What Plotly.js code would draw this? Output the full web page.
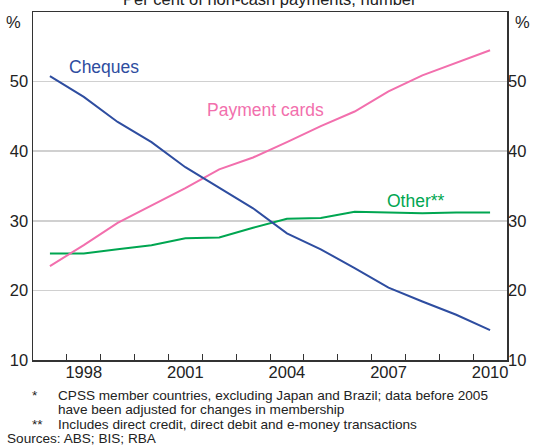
<!DOCTYPE html>
<html>
<head>
<meta charset="utf-8">
<script src="https://cdn.plot.ly/plotly-3.0.1.min.js"></script>
<style>html,body{margin:0;padding:0;background:#fff;}#chart{width:535px;height:448px;}</style>
</head>
<body>
<div id="chart"></div>
<script>
const years = [1997,1998,1999,2000,2001,2002,2003,2004,2005,2006,2007,2008,2009,2010];
const cheques = [50.8,47.8,44.2,41.3,37.7,34.7,31.8,28.2,25.9,23.2,20.4,18.4,16.5,14.3];
const paymentCards = [23.5,26.5,29.7,32.2,34.7,37.4,39.1,41.3,43.6,45.7,48.6,50.9,52.7,54.5];
const other = [25.3,25.3,25.9,26.5,27.5,27.6,29.0,30.3,30.4,31.3,31.2,31.1,31.2,31.2];
const labelYears = [1998,2001,2004,2007,2010];
const yTicks = [10,20,30,40,50];

const blue = '#2e4da0', pink = '#f26fad', green = '#00a651';
const font = 'Arial, "Liberation Sans", Helvetica, sans-serif';
const mid = years.map(y => y + 0.5);

function line(vals, color, name) {
  return {x: mid, y: vals, type: 'scatter', mode: 'lines', name: name,
          line: {color: color, width: 2}, showlegend: false, hoverinfo: 'skip'};
}

const traces = [
  line(other, green, 'Other'),
  line(paymentCards, pink, 'Payment cards'),
  line(cheques, blue, 'Cheques'),
  {x: [], y: [], yaxis: 'y2', type: 'scatter', showlegend: false}
];

const boundaries = years.slice(1);
const fn = {size: 13.6, color: '#222'};

const layout = {
  width: 535, height: 448,
  margin: {l: 33, r: 28, t: 12, b: 88},
  paper_bgcolor: '#fff', plot_bgcolor: '#fff',
  font: {family: font, size: 16, color: '#222'},
  xaxis: {
    range: [1997, 2011],
    tickmode: 'array',
    tickvals: labelYears.map(y => y + 0.5),
    ticktext: labelYears.map(String),
    ticks: '', ticklabelstandoff: -3,
    showgrid: false, zeroline: false,
    showline: true, linecolor: '#333', linewidth: 1.5, mirror: true,
    tickfont: {size: 16.5, color: '#222'},
    minor: {tickmode: 'array', tickvals: boundaries, ticks: 'inside', ticklen: 6,
            tickcolor: '#333', tickwidth: 1, showgrid: false}
  },
  yaxis: {
    range: [10, 60],
    tickmode: 'array', tickvals: yTicks, ticktext: yTicks.map(String),
    ticks: '', showgrid: true, gridcolor: '#d0d0d0', gridwidth: 1.5,
    zeroline: false, showline: true, linecolor: '#333', linewidth: 1.5, mirror: true,
    tickfont: {size: 16.5, color: '#222'}
  },
  yaxis2: {
    range: [10, 60], overlaying: 'y', side: 'right',
    tickmode: 'array', tickvals: yTicks, ticktext: yTicks.map(String),
    ticks: '', showgrid: false, zeroline: false, showline: false,
    tickfont: {size: 16.5, color: '#222'}
  },
  annotations: [
    {text: 'Per cent of non-cash payments, number', xref: 'paper', yref: 'paper', x: 0.5, y: 1.036,
     xanchor: 'center', yanchor: 'middle', showarrow: false, font: {size: 16.5, color: '#222'}},
    {text: '%', xref: 'paper', yref: 'paper', x: -0.042, y: 0.972, xanchor: 'center', yanchor: 'middle',
     showarrow: false, font: {size: 16.5, color: '#222'}},
    {text: '%', xref: 'paper', yref: 'paper', x: 1.032, y: 0.972, xanchor: 'center', yanchor: 'middle',
     showarrow: false, font: {size: 16.5, color: '#222'}},
    {text: 'Cheques', xref: 'x', yref: 'y', x: 1999.1, y: 52.1, xanchor: 'center', yanchor: 'middle',
     showarrow: false, font: {size: 17.5, color: blue}},
    {text: 'Payment cards', xref: 'x', yref: 'y', x: 2003.87, y: 45.9, xanchor: 'center', yanchor: 'middle',
     showarrow: false, font: {size: 17.5, color: pink}},
    {text: 'Other**', xref: 'x', yref: 'y', x: 2008.3, y: 32.8, xanchor: 'center', yanchor: 'middle',
     showarrow: false, font: {size: 17.5, color: green}},
    {text: '*', xref: 'paper', yref: 'paper', x: -0.006, y: -0.102, xanchor: 'left', yanchor: 'middle',
     showarrow: false, font: fn},
    {text: 'CPSS member countries, excluding Japan and Brazil; data before 2005', xref: 'paper', yref: 'paper',
     x: 0.048, y: -0.102, xanchor: 'left', yanchor: 'middle', showarrow: false, font: fn},
    {text: 'have been adjusted for changes in membership', xref: 'paper', yref: 'paper',
     x: 0.048, y: -0.141, xanchor: 'left', yanchor: 'middle', showarrow: false, font: fn},
    {text: '**', xref: 'paper', yref: 'paper', x: -0.006, y: -0.184, xanchor: 'left', yanchor: 'middle',
     showarrow: false, font: fn},
    {text: 'Includes direct credit, direct debit and e-money transactions', xref: 'paper', yref: 'paper',
     x: 0.048, y: -0.184, xanchor: 'left', yanchor: 'middle', showarrow: false, font: fn},
    {text: 'Sources: ABS; BIS; RBA', xref: 'paper', yref: 'paper',
     x: -0.059, y: -0.225, xanchor: 'left', yanchor: 'middle', showarrow: false, font: fn}
  ]
};

Plotly.newPlot('chart', traces, layout, {staticPlot: true, displayModeBar: false});
</script>
</body>
</html>
